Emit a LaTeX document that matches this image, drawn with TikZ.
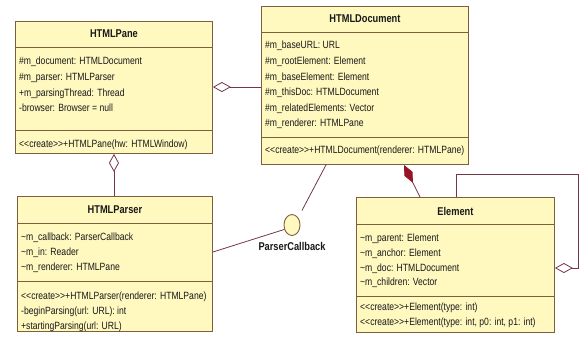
\documentclass[tikz,border=0pt]{standalone}
\usepackage{fontspec}
\setmainfont[FakeStretch=0.82]{Liberation Sans}
\usetikzlibrary{arrows.meta,shapes.geometric}
\definecolor{classfill}{RGB}{255,249,192}
\definecolor{classline}{RGB}{125,95,60}
\definecolor{linkline}{RGB}{115,55,70}
\definecolor{compfill}{RGB}{150,20,35}
\begin{document}
\begin{tikzpicture}[x=1pt,y=-1pt,
    classbox/.style={draw=classline,fill=classfill,line width=0.9pt,anchor=north west,inner sep=0pt},
    sep/.style={draw=classline,line width=0.9pt},
    title/.style={font=\fontsize{11.3}{13}\selectfont\bfseries,text=black!90},
    members/.style={font=\fontsize{10.5}{15.6}\selectfont,align=left,anchor=north west,inner sep=0pt,text=black!90},
    tight/.style={font=\fontsize{10.5}{14.6}\selectfont},
    link/.style={draw=linkline,line width=0.8pt},
    agg/.style={link,{Diamond[open,length=18pt,width=10pt]}-},
    comp/.style={link,{Diamond[length=20pt,width=9pt,color=compfill]}-},
    iface/.style={draw=classline,fill=classfill,line width=0.9pt,ellipse,minimum width=16pt,minimum height=21pt,inner sep=0pt}]
    \useasboundingbox (0,0) rectangle (581,341);

    \node[classbox,minimum width=197pt,minimum height=132pt] (pane) at (15,21) {};
    \draw[sep] (pane.west |- 0,47) -- (pane.east |- 0,47);
    \draw[sep] (pane.west |- 0,130) -- (pane.east |- 0,130);
    \node[title] (pane-t) at (pane.north |- 0,34) {HTMLPane};
    \node[members] (pane-a) at (19,57) {\#m\_document: HTMLDocument\\\#m\_parser: HTMLParser\\+m\_parsingThread: Thread\\-browser: Browser = null};
    \node[members] (pane-m) at (19,140) {<{}<create>{}>+HTMLPane(hw: HTMLWindow)};

    \node[classbox,minimum width=207pt,minimum height=158pt] (doc) at (261,6) {};
    \draw[sep] (doc.west |- 0,32) -- (doc.east |- 0,32);
    \draw[sep] (doc.west |- 0,137) -- (doc.east |- 0,137);
    \node[title] (doc-t) at (doc.north |- 0,19) {HTMLDocument};
    \node[members] (doc-a) at (265,41) {\#m\_baseURL: URL\\\#m\_rootElement: Element\\\#m\_baseElement: Element\\\#m\_thisDoc: HTMLDocument\\\#m\_relatedElements: Vector\\\#m\_renderer: HTMLPane};
    \node[members] (doc-m) at (265,146) {<{}<create>{}>+HTMLDocument(renderer: HTMLPane)};

    \node[classbox,minimum width=195pt,minimum height=135pt] (parser) at (17,196) {};
    \draw[sep] (parser.west |- 0,223) -- (parser.east |- 0,223);
    \draw[sep] (parser.west |- 0,281) -- (parser.east |- 0,281);
    \node[title] (parser-t) at (parser.north |- 0,210) {HTMLParser};
    \node[members,tight] (parser-a) at (21,233) {\textasciitilde m\_callback: ParserCallback\\\textasciitilde m\_in: Reader\\\textasciitilde m\_renderer: HTMLPane};
    \node[members,tight] (parser-m) at (21,292) {<{}<create>{}>+HTMLParser(renderer: HTMLPane)\\-beginParsing(url: URL): int\\+startingParsing(url: URL)};

    \node[classbox,minimum width=198pt,minimum height=135pt] (elem) at (356,197) {};
    \draw[sep] (elem.west |- 0,224) -- (elem.east |- 0,224);
    \draw[sep] (elem.west |- 0,296) -- (elem.east |- 0,296);
    \node[title] (elem-t) at (elem.north |- 0,211) {Element};
    \node[members,tight] (elem-a) at (360,234) {\textasciitilde m\_parent: Element\\\textasciitilde m\_anchor: Element\\\textasciitilde m\_doc: HTMLDocument\\\textasciitilde m\_children: Vector};
    \node[members,tight] (elem-m) at (360,303) {<{}<create>{}>+Element(type: int)\\<{}<create>{}>+Element(type: int, p0: int, p1: int)};

    \node[iface] (cb) at (292,225) {};
    \node[title] (cb-l) at (292,246) {ParserCallback};

    \draw[agg] (pane.east |- 0,87) -- (doc.west |- 0,87);
    \draw[agg] (pane.south) -- (pane.south |- parser.north);
    \draw[comp] (doc.south -| 404,0) -- (elem.north -| 420,0);
    \coordinate (loop) at (578,174);
    \draw[link,-{Diamond[open,length=18pt,width=10pt]}] (elem.north -| 456,0) |- (loop) |- (elem.east |- 0,268);
    \draw[link] (parser.east |- 0,252) -- (cb.210);
    \draw[link,shorten >=8pt] (doc.south -| 326,0) -- (cb.50);
\end{tikzpicture}
\end{document}
